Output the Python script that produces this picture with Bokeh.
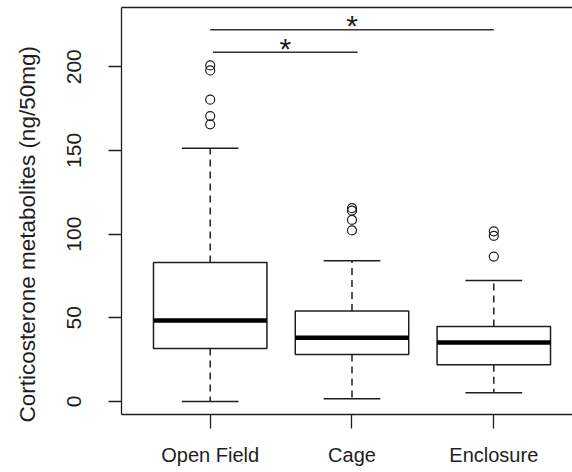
import math
from bokeh.plotting import figure
from bokeh.models import (LinearAxis, FixedTicker, Range1d, Title)
from bokeh.core.properties import value
from bokeh.embed import file_html
from bokeh.resources import INLINE

# ---- data ----
categories = ["Open Field", "Cage", "Enclosure"]
q1 = [31.7, 28.1, 21.9]
median = [48.4, 38.1, 35.3]
q3 = [83.1, 54.0, 44.8]
whisker_low = [0.0, 1.6, 5.2]
whisker_high = [151.3, 84.1, 72.3]
outliers = {
    "Open Field": [200.8, 197.8, 180.3, 170.5, 165.6],
    "Cage": [115.5, 114.0, 108.5, 102.2],
    "Enclosure": [101.7, 99.0, 86.6],
}
# significance brackets: start group pos, end group pos, height
sig_x0 = [1.0, 1.02]
sig_x1 = [3.0, 2.04]
sig_y = [222.1, 208.7]
sig_text = ["*", "*"]
y_ticks = [0, 50, 100, 150, 200]
y_title = "Corticosterone metabolites (ng/50mg)"

FONT = "Liberation Sans, Arial, sans-serif"
INK = "#1e1e1e"

xs = [i + 1 for i in range(len(categories))]

p = figure(width=572, height=472, output_backend="svg", toolbar_location=None,
           x_range=Range1d(0.3745, 3.555), y_range=Range1d(-7.77, 235.4),
           min_border_left=121, min_border_right=0, min_border_top=7, min_border_bottom=58,
           x_axis_location=None, y_axis_location=None)
p.outline_line_color = None
p.xgrid.visible = False
p.ygrid.visible = False
p.background_fill_color = "white"
p.border_fill_color = "white"

# y axis
yax = LinearAxis(ticker=FixedTicker(ticks=y_ticks))
yax.major_tick_out = 13
yax.major_tick_in = 0
yax.minor_tick_out = 0
yax.minor_tick_in = 0
yax.major_label_orientation = "vertical"
yax.major_label_standoff = 27
yax.major_label_text_font = FONT
yax.major_label_text_font_size = "21px"
yax.major_label_text_color = INK
yax.axis_line_color = INK
yax.axis_line_width = 1.3
yax.major_tick_line_color = INK
yax.major_tick_line_width = 1.3
p.add_layout(yax, "left")

# y title (shifted along the axis like the reference); the blank second line
# pushes the text further away from the axis
ttl = Title(text=y_title + "\n ", align="left", offset=-8, standoff=0,
            text_font=FONT, text_font_size="22.5px", text_font_style="normal",
            text_color=INK)
p.add_layout(ttl, "left")

# x axis
xax = LinearAxis(ticker=FixedTicker(ticks=xs))
xax.major_label_overrides = {x: c for x, c in zip(xs, categories)}
xax.major_tick_out = 14
xax.major_tick_in = 0
xax.minor_tick_out = 0
xax.minor_tick_in = 0
xax.major_label_standoff = 15
xax.major_label_text_font = FONT
xax.major_label_text_font_size = "20px"
xax.major_label_text_color = INK
xax.axis_line_color = INK
xax.axis_line_width = 1.3
xax.major_tick_line_color = INK
xax.major_tick_line_width = 1.3
p.add_layout(xax, "below")

# top border
tax = LinearAxis(ticker=FixedTicker(ticks=[]))
tax.major_tick_out = 0
tax.major_tick_in = 0
tax.minor_tick_out = 0
tax.minor_tick_in = 0
tax.major_label_standoff = 0
tax.major_label_text_font_size = "0px"
tax.axis_line_color = INK
tax.axis_line_width = 1.3
p.add_layout(tax, "above")

# boxes
bw = 0.4
cap = 0.2
p.quad(left=[x - bw for x in xs], right=[x + bw for x in xs], bottom=q1, top=q3,
       fill_color="white", line_color=INK, line_width=1.5)
p.segment(x0=[x - bw for x in xs], x1=[x + bw for x in xs], y0=median, y1=median,
          line_color="black", line_width=4.5, line_cap="butt")
# whiskers
p.segment(x0=xs, x1=xs, y0=q3, y1=whisker_high, line_color=INK, line_width=1.5, line_dash="7 5")
p.segment(x0=xs, x1=xs, y0=q1, y1=whisker_low, line_color=INK, line_width=1.5, line_dash="7 5")
p.segment(x0=[x - cap for x in xs], x1=[x + cap for x in xs], y0=whisker_high, y1=whisker_high,
          line_color=INK, line_width=1.5)
p.segment(x0=[x - cap for x in xs], x1=[x + cap for x in xs], y0=whisker_low, y1=whisker_low,
          line_color=INK, line_width=1.5)
# outliers
ox, oy = [], []
for x, c in zip(xs, categories):
    for v in outliers[c]:
        ox.append(x)
        oy.append(v)
p.scatter(ox, oy, marker="circle", size=9, fill_color=None, line_color=INK, line_width=1.2)

# significance brackets
p.segment(x0=sig_x0, x1=sig_x1, y0=sig_y, y1=sig_y, line_color="#333333", line_width=1.5)
star_x = [(a + b) / 2 for a, b in zip(sig_x0, sig_x1)]
p.text(x=star_x, y=sig_y, text=sig_text, text_font=value(FONT), text_font_size="30px",
       text_align="center", text_baseline="alphabetic", text_color=INK, y_offset=-4)

open("out.html", "w").write(file_html(p, INLINE))
